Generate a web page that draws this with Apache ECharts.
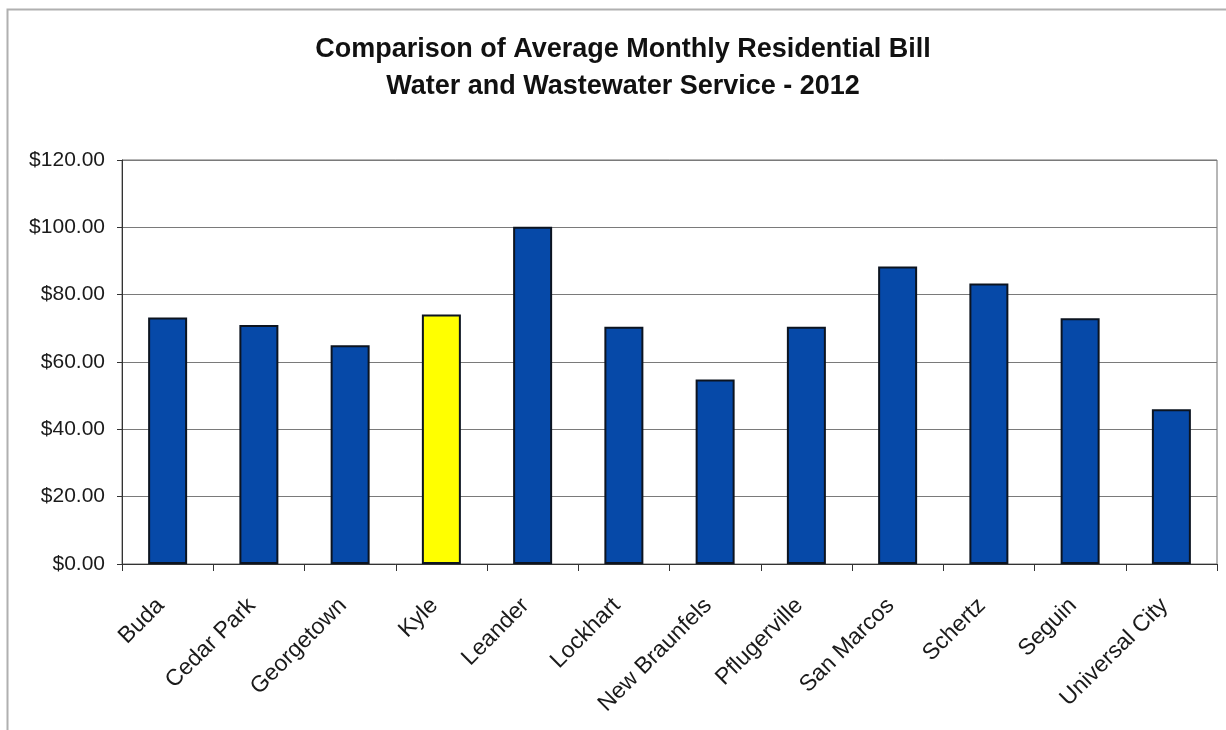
<!DOCTYPE html>
<html>
<head>
<meta charset="utf-8">
<style>
  html, body { margin: 0; padding: 0; background: #ffffff; }
  #chart { width: 1226px; height: 730px; }
</style>
<script src="https://cdn.jsdelivr.net/npm/echarts@6/dist/echarts.min.js"></script>
</head>
<body>
<div id="chart"></div>
<script>
// Cities compared and their average monthly water + wastewater bill (USD)
const cities = ['Buda', 'Cedar Park', 'Georgetown', 'Kyle', 'Leander', 'Lockhart',
  'New Braunfels', 'Pflugerville', 'San Marcos', 'Schertz', 'Seguin', 'Universal City'];
const monthlyBill = [73.2, 71.0, 65.0, 74.1, 100.2, 70.5, 54.8, 70.5, 88.4, 83.3, 73.0, 46.0];
const highlightCity = 'Kyle';
const yTicks = [0, 20, 40, 60, 80, 100, 120];

const titleLines = ['Comparison of Average Monthly Residential Bill',
  'Water and Wastewater Service - 2012'];

const BLUE = '#0649a8';
const YELLOW = '#ffff00';
const FONT = '"Liberation Sans", Arial, sans-serif';

const chart = echarts.init(document.getElementById('chart'), null, { renderer: 'canvas' });

const titleGraphics = titleLines.map((line, i) => ({
  type: 'text',
  x: 623,
  y: 50 + i * 37,
  silent: true,
  style: {
    text: line,
    textAlign: 'center',
    textVerticalAlign: 'middle',
    fontFamily: FONT,
    fontWeight: 'bold',
    fontSize: 27,
    fill: '#111111'
  }
}));

chart.setOption({
  backgroundColor: '#ffffff',
  animation: false,
  graphic: [{
    type: 'rect',
    shape: { x: 7.5, y: 9.5, width: 1240, height: 760 },
    style: { fill: 'none', stroke: '#b0b0b0', lineWidth: 2 },
    silent: true,
    z: -1
  }].concat(titleGraphics),
  grid: {
    left: 122,
    right: 9,
    top: 160,
    bottom: 166,
    show: true,
    borderColor: '#6f6f6f',
    borderWidth: 1,
    backgroundColor: 'transparent'
  },
  xAxis: {
    type: 'category',
    data: cities,
    boundaryGap: true,
    axisLine: { lineStyle: { color: '#333333', width: 1 } },
    axisTick: { show: true, length: 7, alignWithLabel: false, lineStyle: { color: '#333333' } },
    axisLabel: {
      interval: 0,
      rotate: 45,
      margin: 31,
      padding: [0, 10, 0, 0],
      fontFamily: FONT,
      fontSize: 23,
      color: '#1a1a1a'
    }
  },
  yAxis: {
    type: 'value',
    min: yTicks[0],
    max: yTicks[yTicks.length - 1],
    interval: yTicks[1] - yTicks[0],
    axisLine: { show: true, lineStyle: { color: '#333333', width: 1 } },
    axisTick: { show: true, length: 5, inside: false, lineStyle: { color: '#333333' } },
    splitLine: { show: true, lineStyle: { color: '#7a7a7a', width: 1.2 } },
    axisLabel: {
      margin: 17,
      fontFamily: FONT,
      fontSize: 21,
      color: '#1a1a1a',
      formatter: v => '$' + v.toFixed(2)
    }
  },
  series: [{
    type: 'bar',
    barWidth: 39,
    data: monthlyBill.map((v, i) => ({
      value: v,
      itemStyle: { color: cities[i] === highlightCity ? YELLOW : BLUE }
    })),
    itemStyle: {
      borderColor: '#0c1420',
      borderWidth: 2
    }
  }]
});
</script>
</body>
</html>
